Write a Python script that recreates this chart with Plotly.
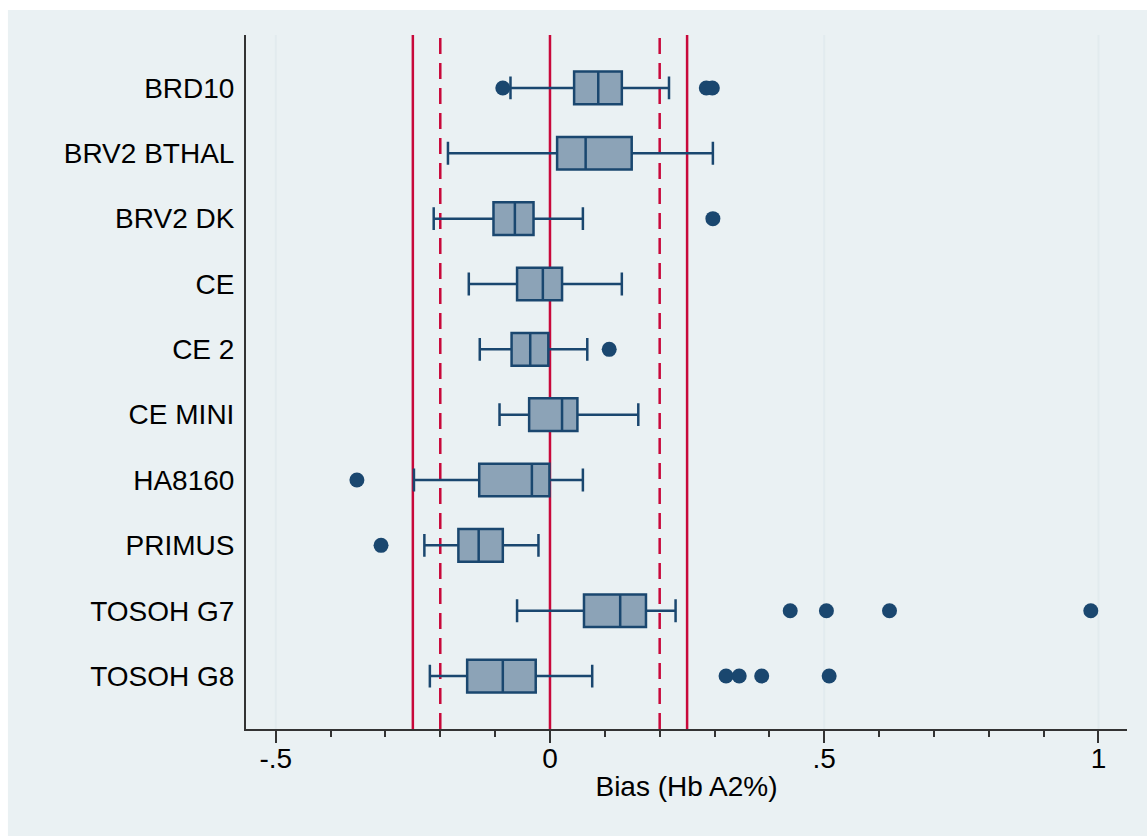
import plotly.graph_objects as go

# ---- data ----
categories = ["BRD10", "BRV2 BTHAL", "BRV2 DK", "CE", "CE 2", "CE MINI",
              "HA8160", "PRIMUS", "TOSOH G7", "TOSOH G8"]
lower_whisker = [-0.072, -0.186, -0.212, -0.148, -0.128, -0.092, -0.248, -0.229, -0.060, -0.219]
q1 =            [ 0.044,  0.013, -0.103, -0.060, -0.070, -0.038, -0.129, -0.167,  0.062, -0.151]
median =        [ 0.088,  0.065, -0.064, -0.013, -0.036,  0.022, -0.033, -0.130,  0.128, -0.086]
q3 =            [ 0.131,  0.149, -0.030,  0.022, -0.003,  0.050, -0.001, -0.086,  0.175, -0.026]
upper_whisker = [ 0.217,  0.297,  0.060,  0.131,  0.068,  0.161,  0.060, -0.021,  0.229,  0.077]

outlier_cat = ["BRD10", "BRD10", "BRD10", "BRV2 DK", "CE 2", "HA8160", "PRIMUS",
               "TOSOH G7", "TOSOH G7", "TOSOH G7", "TOSOH G7",
               "TOSOH G8", "TOSOH G8", "TOSOH G8", "TOSOH G8"]
outlier_val = [-0.086, 0.285, 0.296, 0.297, 0.108, -0.352, -0.308,
               0.438, 0.504, 0.619, 0.986,
               0.321, 0.345, 0.386, 0.509]

solid_lines = [-0.25, 0.0, 0.25]
dashed_lines = [-0.2, 0.2]

tick_vals = [-0.5, 0, 0.5, 1]
tick_text = ["-.5", "0", ".5", "1"]

NAVY = "#1a476f"
BOXFILL = "#8ca3b7"
RED = "#c8083a"
BG = "#eaf1f3"
GRID = "#e2ebee"

fig = go.Figure()

fig.add_trace(go.Box(
    y=categories, q1=q1, median=median, q3=q3,
    lowerfence=lower_whisker, upperfence=upper_whisker,
    orientation="h", boxpoints=False,
    fillcolor=BOXFILL, line=dict(color=NAVY, width=2.5),
    whiskerwidth=0.7, width=0.5, showlegend=False, hoverinfo="skip",
))

fig.add_trace(go.Scatter(
    x=outlier_val, y=outlier_cat, mode="markers",
    marker=dict(color=NAVY, size=15, line=dict(width=0)),
    showlegend=False, hoverinfo="skip",
))

shapes = []
# outer background band (white margin at left/top like the reference)
shapes.append(dict(type="rect", xref="paper", yref="paper",
                   x0=(8 - 246) / 880.7, x1=1.1, y0=-0.2, y1=(729 - 10) / 694,
                   fillcolor=BG, line=dict(width=0), layer="below"))
# grid lines at the major ticks
for v in tick_vals:
    shapes.append(dict(type="line", xref="x", yref="paper", x0=v, x1=v, y0=0, y1=1,
                       line=dict(color=GRID, width=2), layer="below"))
for v in solid_lines:
    shapes.append(dict(type="line", xref="x", yref="paper", x0=v, x1=v, y0=0, y1=1,
                       line=dict(color=RED, width=2.5), layer="below"))
for v in dashed_lines:
    shapes.append(dict(type="line", xref="x", yref="paper", x0=v, x1=v, y0=0, y1=1,
                       line=dict(color=RED, width=2.5, dash="16px,9px"), layer="below"))

fig.update_layout(
    width=1147, height=836,
    margin=dict(l=246, r=20, t=35, b=107),
    paper_bgcolor="white", plot_bgcolor="white",
    font=dict(family="Liberation Sans, Arial, sans-serif", size=28, color="black"),
    shapes=shapes,
    xaxis=dict(
        range=[-0.5542, 1.052], tickvals=tick_vals, ticktext=tick_text,
        ticks="outside", ticklen=12, tickwidth=2, tickcolor="#333333",
        minor=dict(dtick=0.1, tick0=0, ticks="outside", ticklen=6, tickwidth=2,
                   tickcolor="#333333", showgrid=False),
        showline=True, linecolor="#333333", linewidth=2,
        showgrid=False, zeroline=False,
        tickfont=dict(size=28), ticklabelstandoff=-9,
        title=dict(text="Bias (Hb A2%)", font=dict(size=28), standoff=4),
    ),
    yaxis=dict(
        type="category", categoryorder="array", categoryarray=categories,
        range=[9.81, -0.81],
        showline=True, linecolor="#333333", linewidth=2,
        showgrid=False, zeroline=False,
        ticks="outside", ticklen=4, tickcolor="rgba(0,0,0,0)",
        tickfont=dict(size=28),
    ),
)

fig.write_html("out.html")
